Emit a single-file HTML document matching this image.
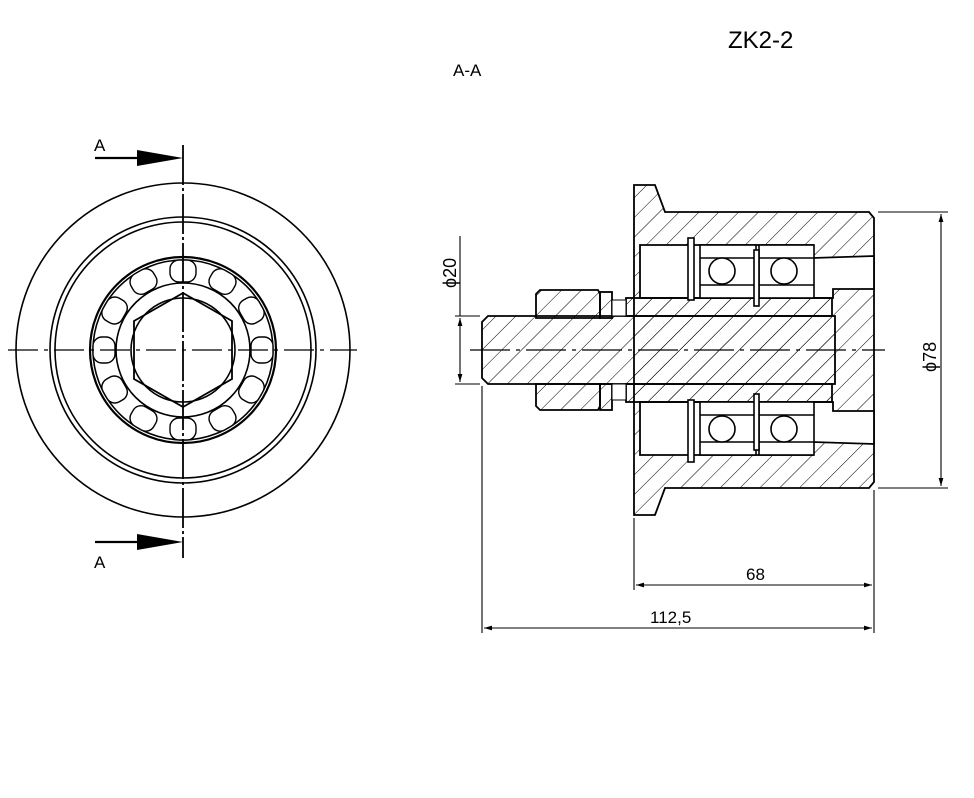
<!DOCTYPE html>
<html><head><style>body{margin:0;background:#fff}svg{display:block}text{font-family:"Liberation Sans",sans-serif;fill:#000}</style></head>
<body>
<svg width="974" height="798" viewBox="0 0 974 798" xmlns="http://www.w3.org/2000/svg">
<defs>
<pattern id="h" patternUnits="userSpaceOnUse" width="14" height="14" patternTransform="rotate(45)">
<line x1="0" y1="0" x2="0" y2="14" stroke="#000" stroke-width="1"/>
</pattern>
<marker id="ar" viewBox="0 0 10 10" refX="10" refY="5" markerWidth="8" markerHeight="8" orient="auto-start-reverse" markerUnits="userSpaceOnUse"><path d="M0,2 L10,5 L0,8Z" fill="#000"/></marker>
</defs>
<rect width="974" height="798" fill="#fff"/>
<text x="728" y="48" font-size="24">ZK2-2</text>
<text x="453" y="76" font-size="17">A-A</text>

<!-- LEFT VIEW -->
<g fill="none" stroke="#000" stroke-width="1.6">
<circle cx="183" cy="350" r="167"/>
<circle cx="183" cy="350" r="133"/>
<circle cx="183" cy="350" r="128"/>
<circle cx="183" cy="350" r="93" stroke-width="2.2"/>
<circle cx="183" cy="350" r="90"/>
<circle cx="183" cy="350" r="67"/>
<circle cx="183" cy="350" r="52"/>
<polygon points="183,293 232,321 232,379 183,407 134,379 134,321" stroke-width="1.8"/>
</g>
<g fill="#fff" stroke="#000" stroke-width="1.4">
<g id="rl">
<rect x="170" y="260" width="26" height="22" rx="9"/>
</g>
<use href="#rl" transform="rotate(30 183 350)"/><use href="#rl" transform="rotate(60 183 350)"/><use href="#rl" transform="rotate(90 183 350)"/><use href="#rl" transform="rotate(120 183 350)"/><use href="#rl" transform="rotate(150 183 350)"/><use href="#rl" transform="rotate(180 183 350)"/><use href="#rl" transform="rotate(210 183 350)"/><use href="#rl" transform="rotate(240 183 350)"/><use href="#rl" transform="rotate(270 183 350)"/><use href="#rl" transform="rotate(300 183 350)"/><use href="#rl" transform="rotate(330 183 350)"/>
</g>
<line x1="183" y1="145" x2="183" y2="558" stroke="#000" stroke-width="1.8" stroke-dasharray="40,3,3,3"/>
<line x1="8" y1="350" x2="357" y2="350" stroke="#000" stroke-width="1.2" stroke-dasharray="30,6,4,6"/>
<line x1="95" y1="158" x2="140" y2="158" stroke="#000" stroke-width="2.2"/>
<polygon points="137,150 183,158 137,166" fill="#000"/>
<line x1="95" y1="542" x2="140" y2="542" stroke="#000" stroke-width="2.2"/>
<polygon points="137,534 183,542 137,550" fill="#000"/>
<text x="94" y="151" font-size="17">A</text>
<text x="94" y="568" font-size="17">A</text>

<!-- SECTION VIEW -->
<g stroke="#000" stroke-width="1.8">
<path d="M634,185 L655,185 L665,212 L869,212 L874,218 L874,482 L869,488 L665,488 L655,515 L634,515 Z" fill="url(#h)"/>
<path d="M640,245 L813,245 L813,258 L874,256 L874,289 L833,289 L833,298 L640,298 Z" fill="#fff"/>
<path d="M640,455 L813,455 L813,442 L874,444 L874,411 L833,411 L833,402 L640,402 Z" fill="#fff"/>
<rect x="626" y="298" width="206" height="18" fill="url(#h)"/>
<rect x="626" y="384" width="206" height="18" fill="url(#h)"/>
<path d="M488,316 L835,316 L835,384 L488,384 L482,378 L482,322 Z" fill="url(#h)"/>
<path d="M540,290 L598,290 L600,294 L600,318 L536,318 L536,294 Z" fill="url(#h)"/>
<rect x="600" y="292" width="12" height="26" fill="url(#h)"/>
<rect x="612" y="300" width="14" height="16" fill="#fff" stroke-width="1"/>
<path d="M536,384 L600,384 L600,406 L598,410 L540,410 L536,406 Z" fill="url(#h)"/>
<rect x="600" y="384" width="12" height="26" fill="url(#h)"/>
<rect x="612" y="384" width="14" height="16" fill="#fff" stroke-width="1"/>
</g>
<g stroke="#000" stroke-width="1.6" fill="#fff">
<rect x="700" y="245" width="56" height="53"/><rect x="759" y="245" width="55" height="53"/>
<rect x="700" y="402" width="56" height="53"/><rect x="759" y="402" width="55" height="53"/>
<line x1="700" y1="258" x2="756" y2="258"/><line x1="700" y1="285" x2="756" y2="285"/>
<line x1="759" y1="258" x2="814" y2="258"/><line x1="759" y1="285" x2="814" y2="285"/>
<line x1="700" y1="415" x2="756" y2="415"/><line x1="700" y1="442" x2="756" y2="442"/>
<line x1="759" y1="415" x2="814" y2="415"/><line x1="759" y1="442" x2="814" y2="442"/>
<circle cx="722" cy="271" r="13"/><circle cx="784" cy="271" r="13"/>
<circle cx="722" cy="429" r="13"/><circle cx="784" cy="429" r="13"/>
<rect x="688" y="238" width="6" height="62"/><rect x="754" y="250" width="5" height="56"/>
<rect x="688" y="400" width="6" height="62"/><rect x="754" y="394" width="5" height="56"/>
</g>
<line x1="470" y1="350" x2="885" y2="350" stroke="#000" stroke-width="1.2" stroke-dasharray="40,6,4,6"/>

<!-- dimensions -->
<g stroke="#000" stroke-width="1.1" fill="none">
<line x1="878" y1="212" x2="948" y2="212"/><line x1="878" y1="488" x2="948" y2="488"/>
<line x1="941" y1="214" x2="941" y2="486" marker-start="url(#ar)" marker-end="url(#ar)"/>
<line x1="455" y1="316" x2="480" y2="316"/><line x1="455" y1="384" x2="480" y2="384"/>
<line x1="460" y1="236" x2="460" y2="316"/>
<line x1="460" y1="318" x2="460" y2="382" marker-start="url(#ar)" marker-end="url(#ar)"/>
<line x1="634" y1="518" x2="634" y2="590"/><line x1="874" y1="490" x2="874" y2="633"/><line x1="482" y1="386" x2="482" y2="633"/>
<line x1="636" y1="585" x2="872" y2="585" marker-start="url(#ar)" marker-end="url(#ar)"/>
<line x1="484" y1="628" x2="872" y2="628" marker-start="url(#ar)" marker-end="url(#ar)"/>
</g>
<text x="746" y="580" font-size="17">68</text>
<text x="650" y="623" font-size="17">112,5</text>
<text transform="translate(456,288) rotate(-90)" font-size="18">ϕ20</text>
<text transform="translate(936,372) rotate(-90)" font-size="18">ϕ78</text>
</svg>
</body></html>
